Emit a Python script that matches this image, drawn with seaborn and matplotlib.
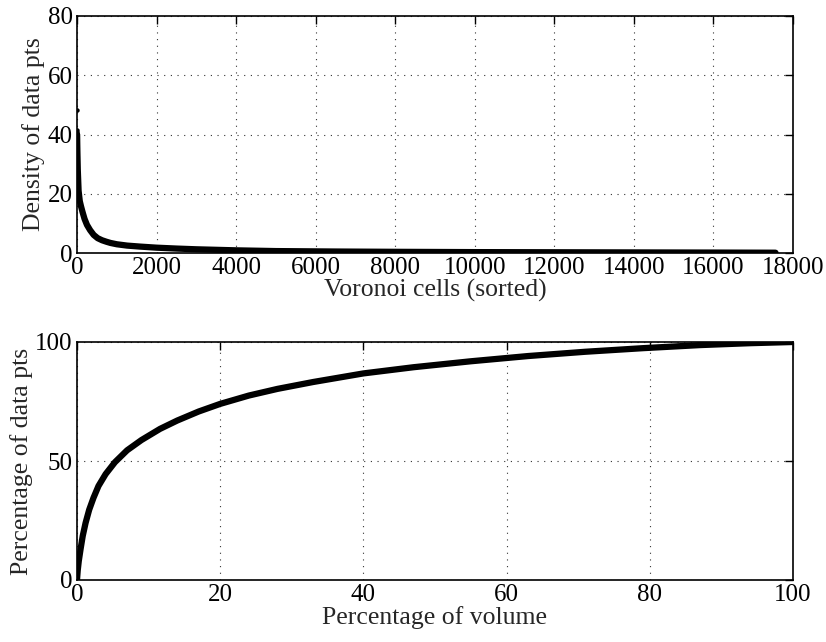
import matplotlib
matplotlib.use("Agg")
import matplotlib.pyplot as plt
import seaborn as sns
import pandas as pd

# Top panel: density of data points in sorted Voronoi cells
spike_cells = [0, 1, 2, 3]
spike_density = [48.3, 41.5, 40.8, 40.0]
cells = [3, 6, 10, 20, 40, 70, 100, 140, 190, 250, 330, 420, 520, 630, 740, 840,
         1000, 1260, 1600, 2000, 2500, 3000, 4000, 5000, 6500, 8000, 10000,
         12000, 14000, 16000, 17560]
density = [40.0, 37.0, 34.0, 28.0, 21.0, 17.5, 15.8, 13.8, 11.5, 9.5, 7.7, 6.1,
           5.0, 4.3, 3.8, 3.4, 2.95, 2.5, 2.15, 1.8, 1.5, 1.25, 0.9, 0.65, 0.5,
           0.4, 0.3, 0.25, 0.2, 0.15, 0.1]

# Bottom panel: cumulative percentage of data points vs percentage of volume
pct_volume = [0, 0.1, 0.25, 0.5, 0.8, 1.2, 1.7, 2.3, 3, 4, 5.3, 7, 9, 11.6, 14,
              17, 20, 24, 28, 33, 40, 47, 55, 63, 71, 79, 87, 94, 100]
pct_points = [0, 4, 8, 13, 18.5, 24, 29.5, 34.5, 39.5, 44.5, 49.5, 54.5, 58.8,
              63.5, 67, 70.8, 74, 77.5, 80.3, 83.2, 86.8, 89.4, 91.9, 94.1,
              95.9, 97.4, 98.7, 99.5, 100]

top_xticks = [0, 2000, 4000, 6000, 8000, 10000, 12000, 14000, 16000, 18000]
top_yticks = [0, 20, 40, 60, 80]
bot_xticks = [0, 20, 40, 60, 80, 100]
bot_yticks = [0, 50, 100]

sns.set_style("white")
plt.rcParams["font.family"] = ["Liberation Serif", "DejaVu Serif"]

fig = plt.figure(figsize=(8.26, 6.42), dpi=100)
ax1 = fig.add_axes([77 / 826, 1 - 253 / 642, 716 / 826, 237 / 642])
ax2 = fig.add_axes([77 / 826, 1 - 580 / 642, 716 / 826, 238 / 642])

df_top = pd.DataFrame({"x": cells, "y": density})
df_spike = pd.DataFrame({"x": spike_cells, "y": spike_density})
df_bot = pd.DataFrame({"x": pct_volume, "y": pct_points})

sns.lineplot(data=df_top, x="x", y="y", ax=ax1, color="black", linewidth=4.5,
             solid_capstyle="round", solid_joinstyle="round", zorder=3)
sns.scatterplot(data=df_spike, x="x", y="y", ax=ax1, color="black", s=10,
                edgecolor="black", linewidth=0, zorder=3)
sns.lineplot(data=df_bot, x="x", y="y", ax=ax2, color="black", linewidth=4.5,
             solid_capstyle="round", solid_joinstyle="round", zorder=3)

def style(ax, xticks, yticks, xlabel, ylabel):
    ax.set_xlim(xticks[0], xticks[-1])
    ax.set_ylim(yticks[0], yticks[-1])
    ax.set_xticks(xticks)
    ax.set_yticks(yticks)
    ax.set_xticklabels([str(t) for t in xticks])
    ax.set_yticklabels([str(t) for t in yticks])
    ax.grid(True, color="#333333", linestyle=(0, (1, 5)), linewidth=0.8)
    ax.tick_params(direction="in", top=True, right=True, length=6, width=1,
                   labelsize=18, pad=3, colors="black")
    for s in ax.spines.values():
        s.set_visible(True)
        s.set_color("black")
        s.set_linewidth(1.2)
    ax.set_xlabel(xlabel, fontsize=18.5, labelpad=0)
    ax.set_ylabel(ylabel, fontsize=18.5, labelpad=2)
    ax.set_facecolor("white")

style(ax1, top_xticks, top_yticks, "Voronoi cells (sorted)", "Density of data pts")
style(ax2, bot_xticks, bot_yticks, "Percentage of volume", "Percentage of data pts")

fig.savefig("out.png", dpi=100, facecolor="white")
